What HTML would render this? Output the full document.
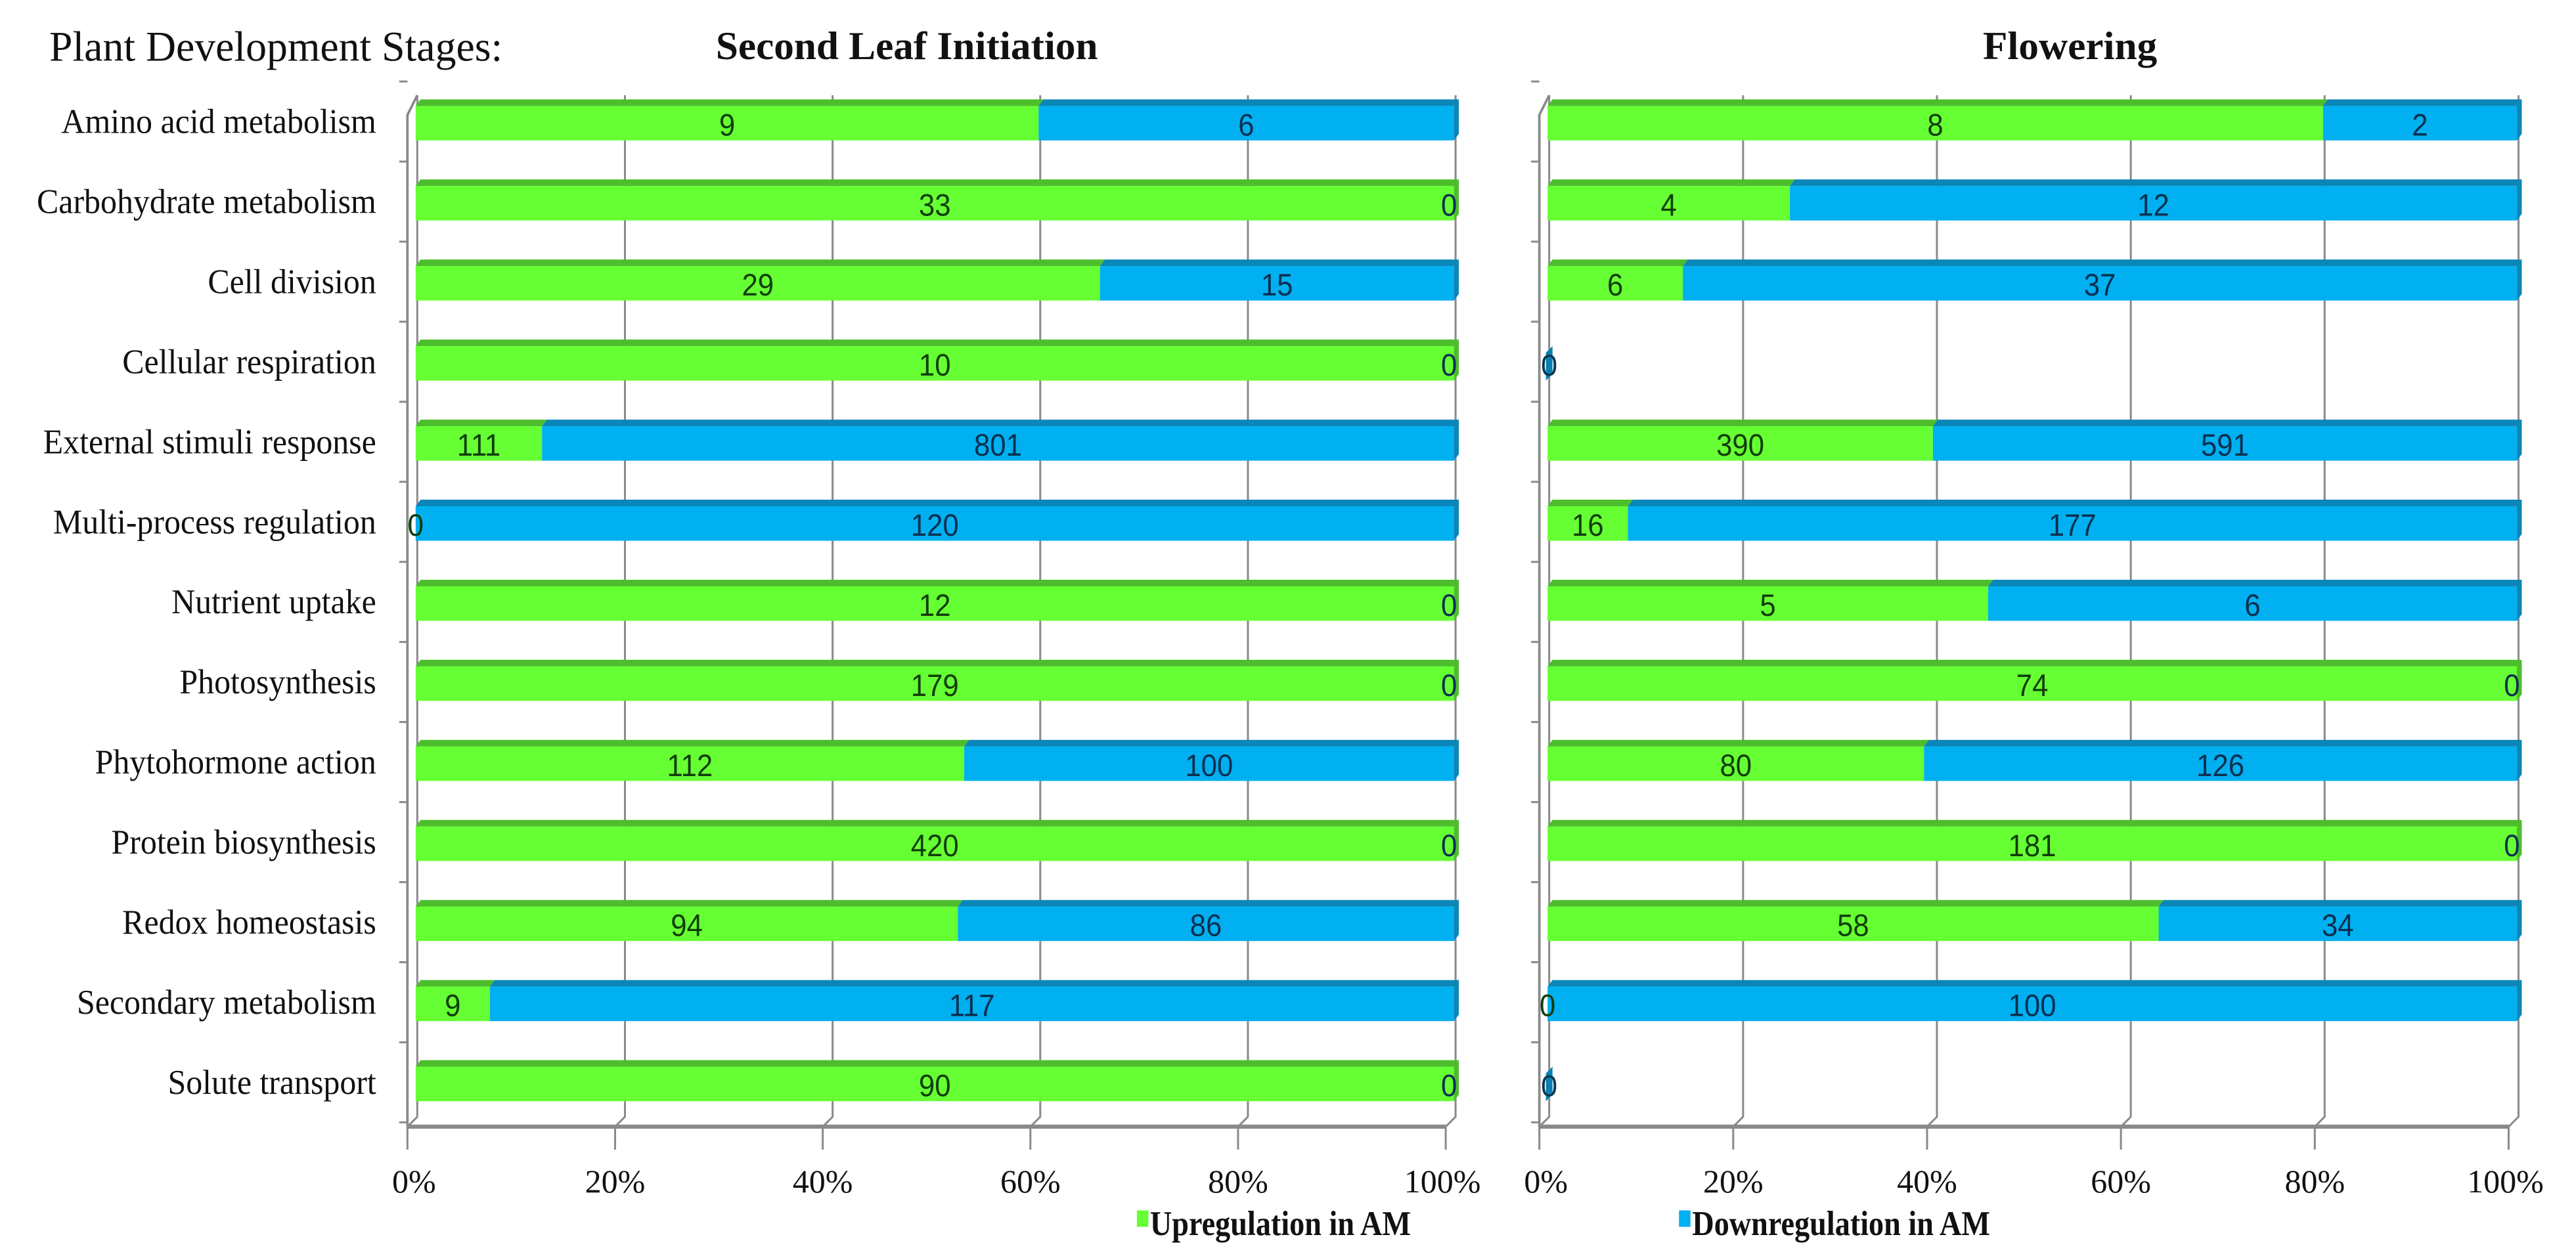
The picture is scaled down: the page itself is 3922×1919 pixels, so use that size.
<!DOCTYPE html>
<html><head><meta charset="utf-8"><style>
html,body{margin:0;padding:0;background:#fff;}
svg{display:block;}
</style></head><body>
<svg id="chart" xmlns="http://www.w3.org/2000/svg" width="3922" height="1919" viewBox="0 0 1568 767.2" preserveAspectRatio="none">
<rect x="0" y="0" width="1568" height="767.2" fill="#fff"/>
<g id="root"></g>
</svg>
<script>
const categories = ["Amino acid metabolism","Carbohydrate metabolism","Cell division","Cellular respiration","External stimuli response","Multi-process regulation","Nutrient uptake","Photosynthesis","Phytohormone action","Protein biosynthesis","Redox homeostasis","Secondary metabolism","Solute transport"];
const leafUp   = [9,33,29,10,111,0,12,179,112,420,94,9,90];
const leafDown = [6,0,15,0,801,120,0,0,100,0,86,117,0];
const flowUp   = [8,4,6,0,390,16,5,74,80,181,58,0,0];
const flowDown = [2,12,37,0,591,177,6,0,126,0,34,100,0];
const tickLabels = ["0%","20%","40%","60%","80%","100%"];
const tickValues = [0,0.2,0.4,0.6,0.8,1];

const NS = "http://www.w3.org/2000/svg";
const root = document.getElementById('root');
function mk(tag, attrs, parent){
  const e = document.createElementNS(NS, tag);
  for (const k in attrs) e.setAttribute(k, attrs[k]);
  (parent||root).appendChild(e);
  return e;
}
const SERIF = '"Liberation Serif", serif';
const SANS = '"Liberation Sans", sans-serif';

let t = mk('text',{x:0,y:0,'font-family':SERIF,'font-size':26,fill:'#111',transform:'translate(30,37) scale(0.98,1)'});


t.textContent = 'Plant Development Stages:';

const y0 = 74, dy = 48.75;
function yc(i){ return y0 + i*dy; }
categories.forEach((c,i)=>{
  const e = mk('text',{x:0,y:0,'font-family':SERIF,'font-size':21,fill:'#111','text-anchor':'end',transform:`translate(229,${yc(i)+7}) scale(0.95,1)`});
  
  
  e.textContent = c;
});

function panel(name, title, titleX, fx0, fx1, up, down){
  const g = mk('g',{});
  
  
  const dx = 6, dz = 6;
  const bx0 = fx0 + dx, bx1 = fx1 + dx;
  const top = 58, floor = 686;
  const xs = v => bx0 + v*(bx1-bx0);
  const xf = v => fx0 + v*(fx1-fx0);
  const tt = mk('text',{x:0,y:0,'font-family':SERIF,'font-size':24,'font-weight':'bold','text-anchor':'middle',fill:'#111',transform:`translate(${titleX},36) scale(1.02,1)`},g);
  
  
  tt.textContent = title;
  tickValues.forEach((v,k)=>{
    const gl = mk('path',{d:`M${xs(v)},${top} L${xs(v)},${floor-dz} L${xf(v)},${floor} L${xf(v)},${floor+14}`,stroke:'#8a8a8a','stroke-width':1.2,fill:'none'},g);
    
    
    const tl = mk('text',{x:xf(v)+(k===0?4:(k===5?-2:0)),y:726,'font-family':SERIF,'font-size':20,'text-anchor':'middle',fill:'#111'},g);
    
    
    tl.textContent = tickLabels[k];
  });
  const fl = mk('path',{d:`M${fx0},${floor} L${fx1},${floor}`,stroke:'#8a8a8a','stroke-width':2.5},g);
  
  
  const lw = mk('path',{d:`M${fx0},${floor} L${fx0},${top+12} L${bx0},${top}`,stroke:'#8a8a8a','stroke-width':1.5,fill:'none'},g);
  
  
  for(let i=0;i<=categories.length;i++){
    const yy = yc(i) - dy/2;
    const tk = mk('line',{x1:fx0-5,x2:fx0,y1:yy,y2:yy,stroke:'#8a8a8a','stroke-width':1.2},g);
    
    
  }
  const h = 21;
  categories.forEach((c,i)=>{
    const tot = up[i] + down[i];
    const bt = yc(i) - h/2 + 1;
    const L = fx0 + 5;
    const W = (fx1 + 5) - L;
    if (tot === 0){
      const s = mk('path',{d:`M${L-1},${bt+4} L${L+3},${bt} L${L+3},${bt+h-4} L${L-1},${bt+h}Z`,fill:'#0a7fb0'},g);
      
      
      const z = mk('text',{x:L+1,y:bt+h-3,'font-family':SANS,'font-size':18,'text-anchor':'middle',fill:'#0b3550'},g);
      
      
      z.textContent = '0';
      return;
    }
    const p = up[i]/tot;
    const xm = L + p*W;
    const segs = [[L, xm, '#66ff33', '#4cbe2c', up[i], '#0f3d0a','up-segment'],[xm, L+W, '#00b0f0','#0a86b8', down[i], '#0b2f50','down-segment']];
    segs.forEach(s=>{
      if (s[1]-s[0] > 0.01){
        const r = mk('rect',{x:s[0],y:bt,width:s[1]-s[0],height:h,fill:s[2]},g);
        
        
        const tp = mk('path',{d:`M${s[0]},${bt} L${s[0]+3},${bt-4} L${s[1]+3},${bt-4} L${s[1]},${bt}Z`,fill:s[3]},g);
        
        
      }
    });
    const endCol = down[i] > 0 ? '#0a86b8' : '#4cbe2c';
    const cap = mk('path',{d:`M${L+W},${bt} L${L+W+3},${bt-4} L${L+W+3},${bt+h-4} L${L+W},${bt+h}Z`,fill:endCol},g);
    
    
    segs.forEach(s=>{
      let lx = (s[0]+s[1])/2;
      if (s[1]-s[0] < 0.01) lx = s[0] <= L+0.01 ? L : L+W-3;
      const lt = mk('text',{x:0,y:0,'font-family':SANS,'font-size':19,'text-anchor':'middle',fill:s[5],transform:`translate(${lx},${bt+h-3}) scale(0.92,1)`},g);
      
      
      lt.textContent = String(s[4]);
    });
  });
}
panel('second-leaf','Second Leaf Initiation',552,248,880,leafUp,leafDown);
panel('flowering','Flowering',1260,937,1527,flowUp,flowDown);

const lg = mk('g',{});


[[692,'#66ff33','Upregulation in AM'],[1022,'#00b0f0','Downregulation in AM']].forEach(d=>{
  const sq = mk('rect',{x:d[0],y:737,width:7,height:10,fill:d[1]},lg);
  
  
  const tx = mk('text',{x:0,y:0,'font-family':SERIF,'font-size':21,'font-weight':'bold',fill:'#111',transform:`translate(${d[0]+8},752) scale(0.88,1)`},lg);
  
  
  tx.textContent = d[2];
});
</script>
</body></html>
